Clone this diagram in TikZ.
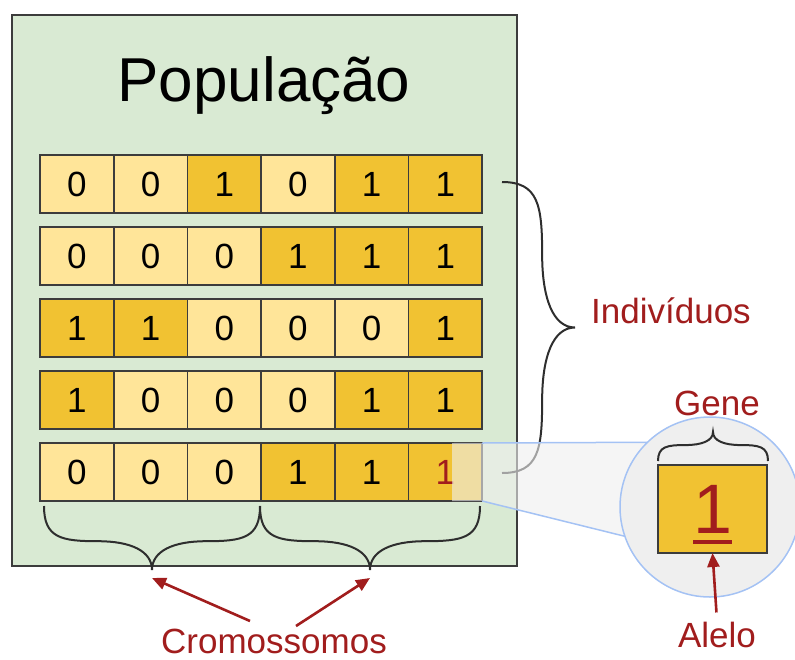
\documentclass[tikz,border=0pt]{standalone}
\usepackage{fontspec}
\setmainfont{Liberation Sans}
\usetikzlibrary{arrows.meta,calc}
\definecolor{popgreen}{HTML}{D9EAD3}
\definecolor{boxline}{HTML}{3C3C3C}
\definecolor{cellc0}{HTML}{FFE599}
\definecolor{cellc1}{HTML}{F1C232}
\definecolor{darkred}{HTML}{A11D1D}
\definecolor{zoomblue}{HTML}{A4C2F4}
\definecolor{zoomgray}{HTML}{EFEFEF}
\definecolor{bracegray}{HTML}{2E2E2E}
\tikzset{
  popbox/.style={draw=boxline, line width=2pt, fill=popgreen, inner sep=0, outer sep=0, minimum width=505pt, minimum height=551pt},
  cellbase/.style={draw=boxline, line width=1.6pt, minimum width=73.7pt, minimum height=58pt, inner sep=0, outer sep=0, font=\fontsize{35}{35}\selectfont},
  redlabel/.style={text=darkred, font=\fontsize{35}{35}\selectfont, inner sep=1pt},
  bracestyle/.style={draw=bracegray, line width=2pt},
  redarrow/.style={draw=darkred, line width=2.6pt, -{Triangle[length=14pt,width=12pt]}},
  blueline/.style={draw=zoomblue, line width=1.5pt},
  pics/cbrace/.style 2 args={code={
    \draw[bracestyle] (0,0) .. controls (0,{0.5*(#2)}) and ({0.08*(#1)},{0.55*(#2)}) .. ({0.25*(#1)},{0.55*(#2)})
      .. controls ({0.4*(#1)},{0.55*(#2)}) and ({0.5*(#1)},{0.7*(#2)}) .. ({0.5*(#1)},#2)
      .. controls ({0.5*(#1)},{0.7*(#2)}) and ({0.6*(#1)},{0.55*(#2)}) .. ({0.75*(#1)},{0.55*(#2)})
      .. controls ({0.92*(#1)},{0.55*(#2)}) and (#1,{0.5*(#2)}) .. (#1,0);
  }}
}
\begin{document}
\begin{tikzpicture}[x=1pt,y=-1pt]
\useasboundingbox (0,0) rectangle (795,659);
% population box
\node[popbox] (pop) at (264.5,290.5) {};
\node[font=\fontsize{62}{62}\selectfont, anchor=base, inner sep=0] (title) at (264,101) {População};
% cells
\foreach \r/\vals in {0/{0,0,1,0,1,1}, 1/{0,0,0,1,1,1}, 2/{1,1,0,0,0,1}, 3/{1,0,0,0,1,1}, 4/{0,0,0,1,1}}
  \foreach \v [count=\c from 0] in \vals
    \node[cellbase, fill=cellc\v] (c\r\c) at ({76.85+73.7*\c},{184+72*\r}) {\v};
\node[cellbase, fill=cellc1, text=darkred] (c45) at ({76.85+73.7*5},{184+72*4}) {1};
% braces
\pic at (44,506) {cbrace={216}{64}};
\pic at (260,506) {cbrace={220}{64}};
\pic[rotate=90] at (502,473) {cbrace={291}{73}};
% magnifier
\path (710,507) node[circle, minimum size=180pt, inner sep=0, outer sep=0] (M) {};
\coordinate (zl) at ($(c45.north east)+(-30,0)$);
\coordinate (zb) at ($(c45.south east)+(-30,0)$);
\fill[zoomgray, opacity=0.6] (zl) -- (M.134.5) -- (M.199) -- (c45.south east) -- (zb) -- cycle;
\draw[blueline] (c45.north east) -- (M.134.5);
\draw[blueline] (c45.south east) -- (M.199);
\draw[blueline, fill=zoomgray] (M.center) circle[radius=90pt];
\node[cellbase, fill=cellc1, minimum width=109pt, minimum height=88pt, text=darkred, font=\fontsize{70}{70}\selectfont] (Z) at (712.5,509) {1};
\draw[darkred, line width=4pt] (693,542) -- (732,542);
\pic at (658,461) {cbrace={110}{-29}};
% labels
\node[redlabel, anchor=base west] (ind) at (590,323) {Indivíduos};
\node[redlabel, anchor=base] (gene) at (717,415) {Gene};
\node[redlabel, anchor=base] (alelo) at (717,647) {Alelo};
\node[redlabel, anchor=base] (crom) at (274,653) {Cromossomos};
% arrows
\coordinate (tl) at (250,621);
\coordinate (tr) at (296,626);
\coordinate (bl) at (152,578);
\coordinate (br) at (370,578);
\draw[redarrow] (tl) -- (bl);
\draw[redarrow] (tr) -- (br);
\draw[redarrow, shorten <=8pt] (alelo.north) -- (Z.south);
\end{tikzpicture}
\end{document}
